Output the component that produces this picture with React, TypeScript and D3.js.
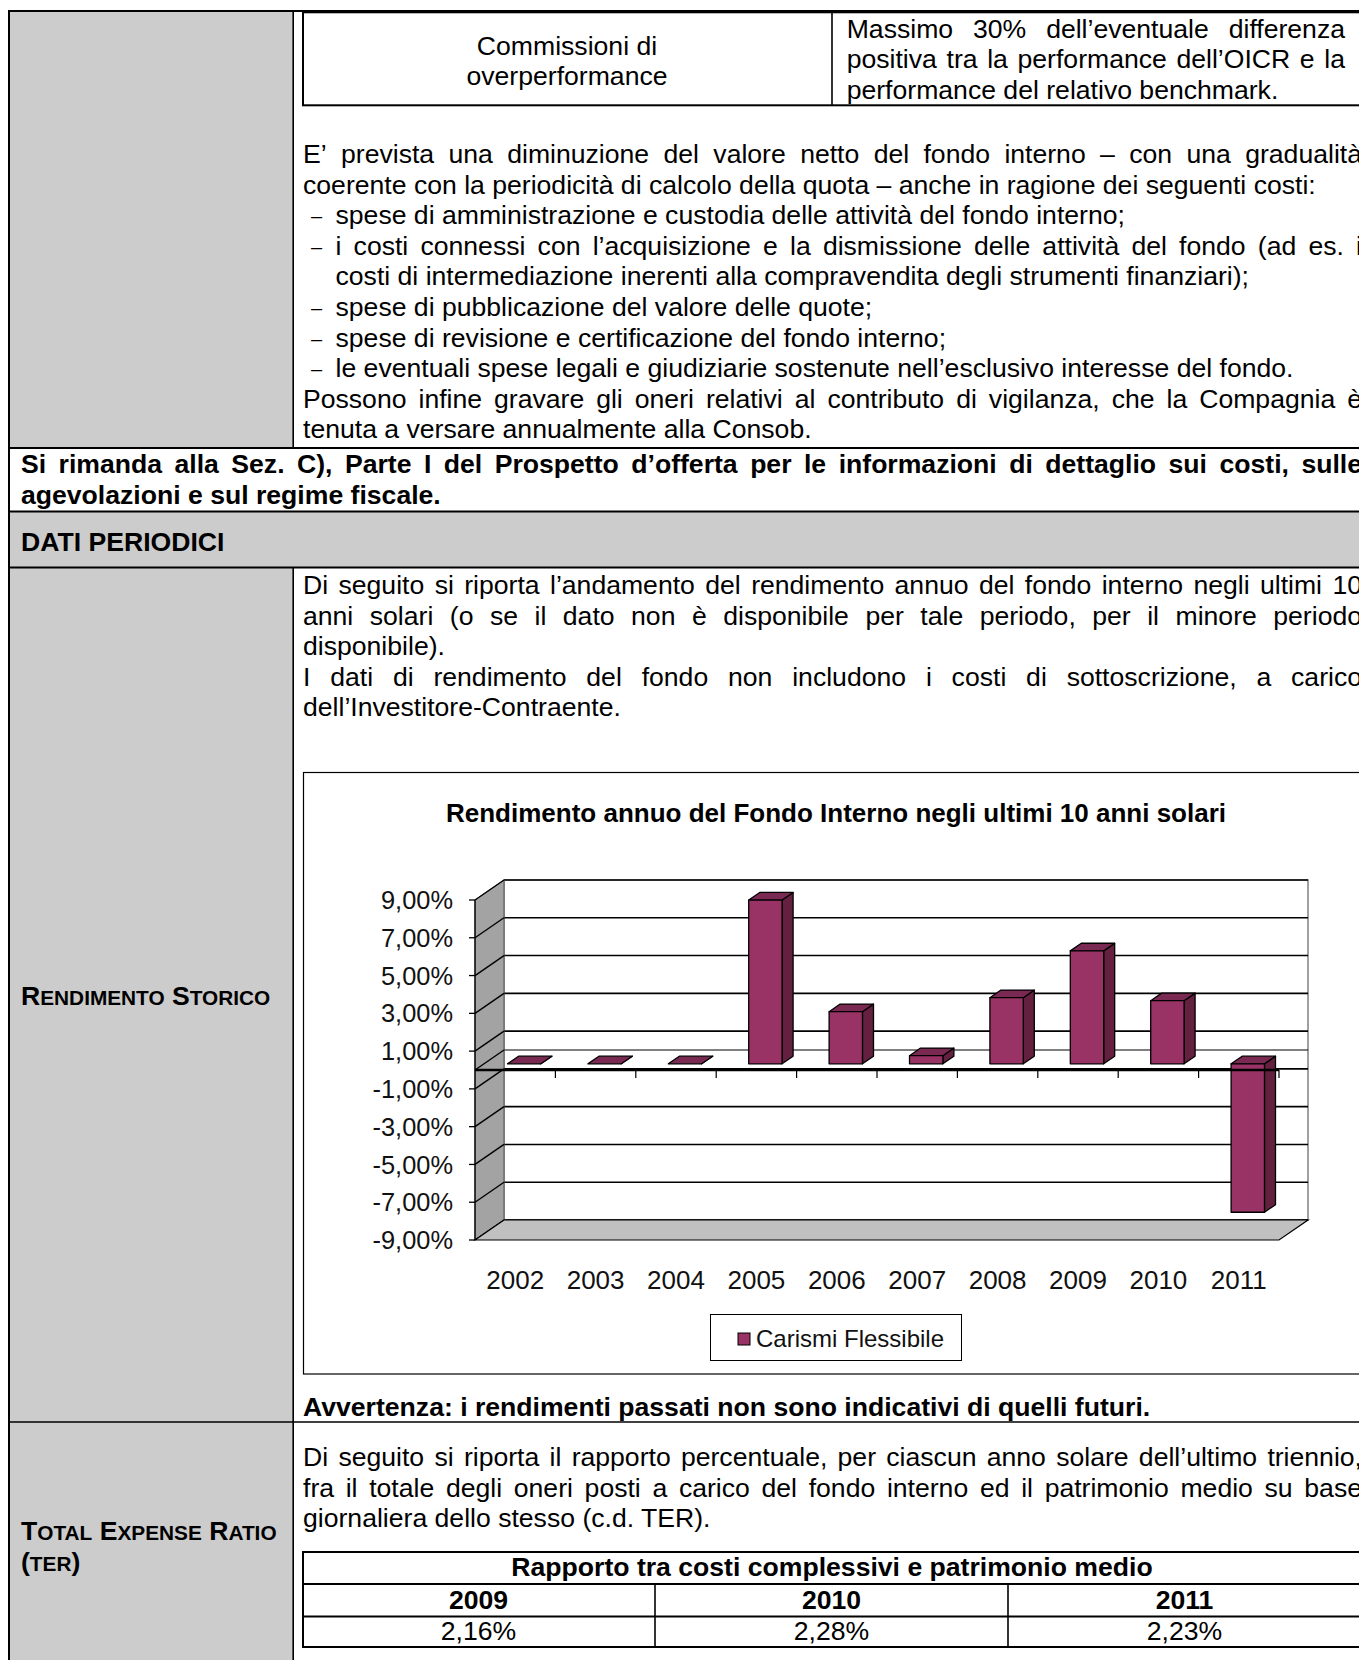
import React from 'react';
import * as d3 from 'd3';

// ---------------- DATA ----------------
const years = ['2002', '2003', '2004', '2005', '2006', '2007', '2008', '2009', '2010', '2011'];
const returns = [0, 0, 0, 8.67, 2.76, 0.43, 3.5, 5.98, 3.34, -7.86];
const yTicks = [9, 7, 5, 3, 1, -1, -3, -5, -7, -9];
const seriesName = 'Carismi Flessibile';
const chartTitle = 'Rendimento annuo del Fondo Interno negli ultimi 10 anni solari';
const terTitle = 'Rapporto tra costi complessivi e patrimonio medio';
const terYears = ['2009', '2010', '2011'];
const terValues = ['2,16%', '2,28%', '2,23%'];

const commLeft = ['Commissioni di', 'overperformance'];
const commRight = [
  'Massimo 30% dell’eventuale differenza',
  'positiva tra la performance dell’OICR e la',
  'performance del relativo benchmark.',
];
// [text, indent(0 normal / 1 bullet / 2 hanging), justify]
const costLines: [string, number, boolean][] = [
  ['E’ prevista una diminuzione del valore netto del fondo interno – con una gradualità', 0, true],
  ['coerente con la periodicità di calcolo della quota – anche in ragione dei seguenti costi:', 0, false],
  ['spese di amministrazione e custodia delle attività del fondo interno;', 1, false],
  ['i costi connessi con l’acquisizione e la dismissione delle attività del fondo (ad es. i', 1, true],
  ['costi di intermediazione inerenti alla compravendita degli strumenti finanziari);', 2, false],
  ['spese di pubblicazione del valore delle quote;', 1, false],
  ['spese di revisione e certificazione del fondo interno;', 1, false],
  ['le eventuali spese legali e giudiziarie sostenute nell’esclusivo interesse del fondo.', 1, false],
  ['Possono infine gravare gli oneri relativi al contributo di vigilanza, che la Compagnia è', 0, true],
  ['tenuta a versare annualmente alla Consob.', 0, false],
];
const rimandaLines: [string, boolean][] = [
  ['Si rimanda alla Sez. C), Parte I del Prospetto d’offerta per le informazioni di dettaglio sui costi, sulle', true],
  ['agevolazioni e sul regime fiscale.', false],
];
const rendLines: [string, boolean][] = [
  ['Di seguito si riporta l’andamento del rendimento annuo del fondo interno negli ultimi 10', true],
  ['anni solari (o se il dato non è disponibile per tale periodo, per il minore periodo', true],
  ['disponibile).', false],
  ['I dati di rendimento del fondo non includono i costi di sottoscrizione, a carico', true],
  ['dell’Investitore-Contraente.', false],
];
const avvertenza = 'Avvertenza: i rendimenti passati non sono indicativi di quelli futuri.';
const terLines: [string, boolean][] = [
  ['Di seguito si riporta il rapporto percentuale, per ciascun anno solare dell’ultimo triennio,', true],
  ['fra il totale degli oneri posti a carico del fondo interno ed il patrimonio medio su base', true],
  ['giornaliera dello stesso (c.d. TER).', false],
];

// ---------------- STYLE ----------------
const FONT = '"Liberation Sans", Arial, sans-serif';
const FS = 26.6;
const SC = 20.8;
const LH = 30.6;
const GREY = '#cccccc';
const RIGHT = 1362;

let _ctx: CanvasRenderingContext2D | null = null;
function tw(s: string, bold: boolean, size: number) {
  if (!_ctx) _ctx = document.createElement('canvas').getContext('2d');
  _ctx!.font = `${bold ? 'bold ' : ''}${size}px "Liberation Sans"`;
  return _ctx!.measureText(s).width;
}

function Line({ text, x, y, right, justify, bold = false, size = FS }: any) {
  const fw = bold ? 'bold' : 'normal';
  if (!justify) {
    return <text x={x} y={y} fontWeight={fw} fontSize={size}>{text}</text>;
  }
  const words = text.split(' ');
  const widths = words.map((w: string) => tw(w, bold, size));
  const total = widths.reduce((a: number, b: number) => a + b, 0);
  const gap = (right - x - total) / (words.length - 1);
  let cx = x;
  return (
    <g>
      {words.map((w: string, i: number) => {
        const el = <text key={i} x={cx} y={y} fontWeight={fw} fontSize={size}>{w}</text>;
        cx += widths[i] + gap;
        return el;
      })}
    </g>
  );
}

// ---------------- CHART ----------------
const locale = d3.formatLocale({ decimal: ',', thousands: '.', grouping: [3], currency: ['', '€'], minus: '-' });
const fmt = (v: number) => locale.format('.2f')(v) + '%';

function Chart() {
  const X0 = 475, X1 = 1279, DX = 29, DY = -20;
  const x = d3.scaleBand<string>().domain(years).range([X0, X1]);
  const y = d3.scaleLinear().domain([-9, 9]).range([1240, 900]);
  const bw = x.bandwidth() * 0.415;
  const TF = 0.31, TB = 0.69;
  const pts = (a: number[][]) => a.map((p) => p.join(',')).join(' ');
  const yMin = -9, yMax = 9;
  const gridVals = [...yTicks, 0];

  return (
    <g>
      {/* frame */}
      <rect x={303.5} y={772.5} width={1070} height={601.5} fill="white" stroke="#000" strokeWidth={1.2} />
      <text x={836} y={822} textAnchor="middle" fontWeight="bold" fontSize={26}>{chartTitle}</text>

      {/* back wall */}
      <rect x={X0 + DX} y={y(yMax) + DY} width={X1 - X0} height={y(yMin) - y(yMax)} fill="white" stroke="#808080" strokeWidth={1.5} />
      {gridVals.map((v) => (
        <line key={'bg' + v} x1={X0 + DX} x2={X1 + DX} y1={y(v) + DY} y2={y(v) + DY}
          stroke="#000" strokeWidth={v === 0 ? 1 : 1.6} />
      ))}
      {/* side wall */}
      <polygon points={pts([[X0, y(yMax)], [X0 + DX, y(yMax) + DY], [X0 + DX, y(yMin) + DY], [X0, y(yMin)]])}
        fill="#a3a3a3" stroke="#555" strokeWidth={1} />
      {gridVals.map((v) => (
        <line key={'sg' + v} x1={X0} x2={X0 + DX} y1={y(v)} y2={y(v) + DY} stroke="#000" strokeWidth={1.4} />
      ))}
      {/* floor */}
      <polygon points={pts([[X0, y(yMin)], [X0 + DX, y(yMin) + DY], [X1 + DX, y(yMin) + DY], [X1, y(yMin)]])}
        fill="#c0c0c0" stroke="#000" strokeWidth={1.2} />

      {/* bars */}
      {years.map((yr, i) => {
        const v = returns[i];
        const cx = (x(yr) as number) + x.bandwidth() / 2;
        const xl = cx - bw / 2 + DX * TF;
        const xr = cx + bw / 2 + DX * TF;
        const yt = y(Math.max(v, 0)) + DY * TF;
        const yb = y(Math.min(v, 0)) + DY * TF;
        const ddx = DX * (TB - TF), ddy = DY * (TB - TF);
        return (
          <g key={yr} stroke="#000" strokeWidth={1.3} strokeLinejoin="round">
            <polygon points={pts([[xr, yt], [xr + ddx, yt + ddy], [xr + ddx, yb + ddy], [xr, yb]])} fill="#63203f" />
            <polygon points={pts([[xl, yt], [xr, yt], [xr + ddx, yt + ddy], [xl + ddx, yt + ddy]])} fill="#7a2952" />
            {yb - yt > 0.5 && <rect x={xl} y={yt} width={xr - xl} height={yb - yt} fill="#993366" />}
          </g>
        );
      })}

      {/* category axis at zero */}
      <line x1={X0} x2={X1} y1={y(0)} y2={y(0)} stroke="#000" strokeWidth={2.6} />
      {years.map((yr) => {
        const xb = (x(yr) as number) + x.bandwidth();
        return <line key={'t' + yr} x1={xb} x2={xb} y1={y(0)} y2={y(0) + 8} stroke="#000" strokeWidth={1.2} />;
      })}
      {/* value axis */}
      <line x1={X0} x2={X0} y1={y(yMax)} y2={y(yMin)} stroke="#000" strokeWidth={1.3} />
      {yTicks.map((v) => (
        <g key={'yt' + v}>
          <line x1={X0 - 6} x2={X0} y1={y(v)} y2={y(v)} stroke="#000" strokeWidth={1.3} />
          <text x={453} y={y(v)} dy="0.36em" textAnchor="end" fontSize={25.4} fill="#111">{fmt(v)}</text>
        </g>
      ))}
      {years.map((yr) => (
        <text key={'xl' + yr} x={(x(yr) as number) + x.bandwidth() / 2} y={1289} textAnchor="middle" fontSize={26} fill="#111">{yr}</text>
      ))}

      {/* legend */}
      <rect x={710.5} y={1314.5} width={251} height={46} fill="white" stroke="#000" strokeWidth={1} />
      <rect x={738} y={1333} width={12} height={12} fill="#993366" stroke="#000" strokeWidth={1} />
      <text x={756} y={1347} fontSize={24} fill="#111">{seriesName}</text>
    </g>
  );
}

export default function App() {
  return (
    <svg width={1359} height={1660} viewBox="0 0 1359 1660"
      style={{ position: 'absolute', left: 0, top: 0, display: 'block' }} fontFamily={FONT}>
      <rect width={1359} height={1660} fill="white" />
      {/* grey fills */}
      <rect x={10} y={12} width={283} height={436} fill={GREY} />
      <rect x={10} y={512} width={1349} height={55} fill={GREY} />
      <rect x={10} y={568} width={283} height={1092} fill={GREY} />

      {/* outer borders */}
      <line x1={8} x2={1359} y1={11} y2={11} stroke="#000" strokeWidth={2} />
      <line x1={9} x2={9} y1={10} y2={1660} stroke="#000" strokeWidth={2} />
      <line x1={293.2} x2={293.2} y1={11} y2={448} stroke="#000" strokeWidth={1.6} />
      <line x1={293.2} x2={293.2} y1={567} y2={1660} stroke="#000" strokeWidth={1.6} />
      <line x1={8} x2={1359} y1={448} y2={448} stroke="#000" strokeWidth={2} />
      <line x1={8} x2={1359} y1={511.5} y2={511.5} stroke="#000" strokeWidth={2} />
      <line x1={8} x2={1359} y1={567.5} y2={567.5} stroke="#000" strokeWidth={2} />
      <line x1={8} x2={1359} y1={1422} y2={1422} stroke="#000" strokeWidth={1.6} />

      {/* commissioni table */}
      <rect x={303} y={12.3} width={1080} height={93} fill="white" stroke="#000" strokeWidth={2} />
      <line x1={832} x2={832} y1={12} y2={105} stroke="#000" strokeWidth={1.6} />
      {commLeft.map((t, i) => (
        <text key={'cl' + i} x={567} y={54.5 + i * LH} textAnchor="middle" fontSize={FS}>{t}</text>
      ))}
      {commRight.map((t, i) => (
        <Line key={'cr' + i} text={t} x={846.7} y={37.5 + i * LH} right={1345} justify={i < 2} />
      ))}

      {/* cost lines */}
      {costLines.map(([t, ind, j], i) => {
        const yy = 163 + i * LH;
        const xx = ind === 0 ? 303 : 335.5;
        return (
          <g key={'c' + i}>
            {ind === 1 && <text x={311} y={yy - 1} fontSize={20}>–</text>}
            <Line text={t} x={xx} y={yy} right={RIGHT} justify={j} />
          </g>
        );
      })}

      {/* rimanda */}
      {rimandaLines.map(([t, j], i) => (
        <Line key={'r' + i} text={t} x={21} y={473 + i * LH} right={RIGHT} justify={j} bold />
      ))}
      <text x={21} y={551} fontWeight="bold" fontSize={FS}>DATI PERIODICI</text>

      {/* rendimento storico */}
      {rendLines.map(([t, j], i) => (
        <Line key={'rs' + i} text={t} x={303} y={594 + i * LH} right={RIGHT} justify={j} />
      ))}
      <text x={21} y={1005} fontWeight="bold" fontSize={FS}>
        R<tspan fontSize={SC}>ENDIMENTO</tspan> S<tspan fontSize={SC}>TORICO</tspan>
      </text>

      <Chart />

      <text x={303} y={1416} fontWeight="bold" fontSize={FS}>{avvertenza}</text>

      {/* TER */}
      {terLines.map(([t, j], i) => (
        <Line key={'t' + i} text={t} x={303} y={1466 + i * LH} right={RIGHT} justify={j} />
      ))}
      <text x={21} y={1540} fontWeight="bold" fontSize={FS}>
        T<tspan fontSize={SC}>OTAL</tspan> E<tspan fontSize={SC}>XPENSE</tspan> R<tspan fontSize={SC}>ATIO</tspan>
      </text>
      <text x={21} y={1570.6} fontWeight="bold" fontSize={FS}>
        (<tspan fontSize={SC}>TER</tspan>)
      </text>

      {/* TER table */}
      {[1552, 1584, 1616.5, 1647].map((yy) => (
        <line key={'h' + yy} x1={302} x2={1362} y1={yy} y2={yy} stroke="#000" strokeWidth={2} />
      ))}
      <line x1={303} x2={303} y1={1551} y2={1648} stroke="#000" strokeWidth={2} />
      <line x1={655} x2={655} y1={1584} y2={1647} stroke="#000" strokeWidth={1.6} />
      <line x1={1008} x2={1008} y1={1584} y2={1647} stroke="#000" strokeWidth={1.6} />
      <text x={832} y={1576} textAnchor="middle" fontWeight="bold" fontSize={FS}>{terTitle}</text>
      {terYears.map((t, i) => (
        <text key={'ty' + t} x={478.5 + i * 353} y={1608.5} textAnchor="middle" fontWeight="bold" fontSize={FS}>{t}</text>
      ))}
      {terValues.map((t, i) => (
        <text key={'tv' + i} x={478.5 + i * 353} y={1640} textAnchor="middle" fontSize={FS}>{t}</text>
      ))}
    </svg>
  );
}
